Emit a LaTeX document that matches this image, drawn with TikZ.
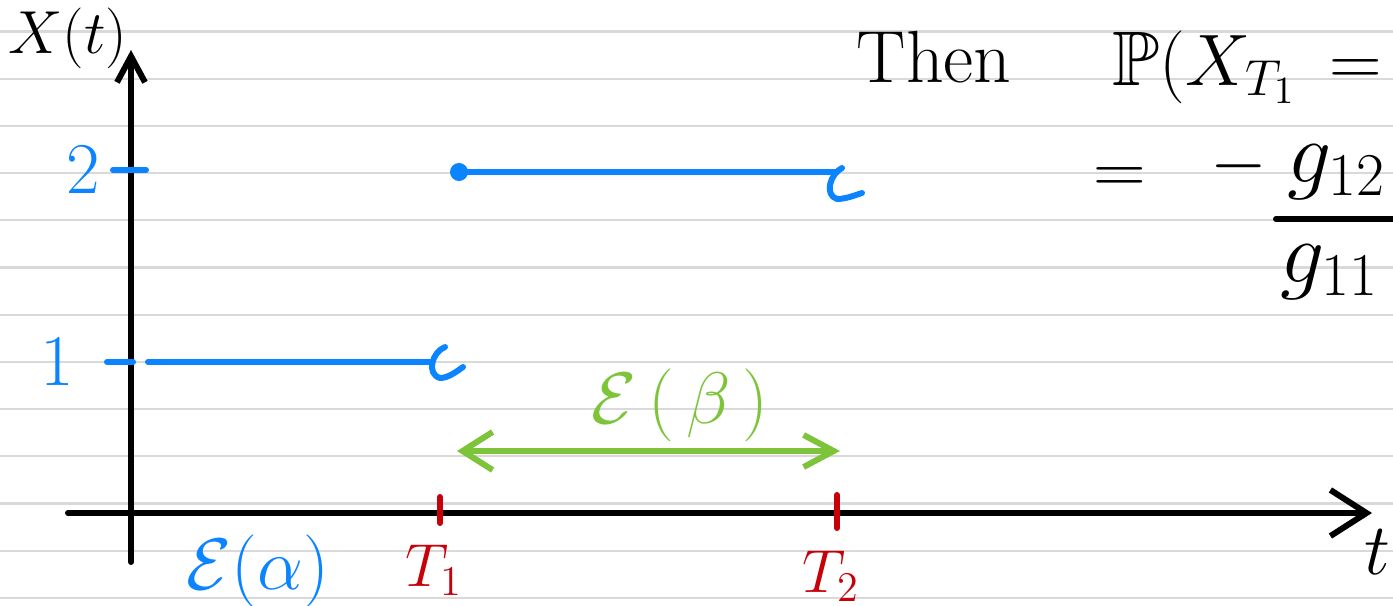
\documentclass[tikz,border=0pt]{standalone}
\usepackage{amsmath, amssymb}
\usepackage{tikz}
\usetikzlibrary{arrows.meta, positioning}

\definecolor{penblue}{HTML}{0A84FF}
\definecolor{pengreen}{HTML}{7DC43A}
\definecolor{penred}{HTML}{C8000A}
\definecolor{ruling}{HTML}{D9D9D9}

\begin{document}
\begin{tikzpicture}[x=0.01cm, y=-0.01cm,
    pen/.style={line width=1.7pt, line cap=round, line join=round},
    hand/.style={font=\fontsize{#1}{#1}\selectfont, inner sep=0pt}]
    \useasboundingbox (0,0) rectangle (1393,606);
    \clip (0,0) rectangle (1393,606);
    \fill[white] (0,0) rectangle (1393,606);

    % Ruled paper
    \foreach \k in {0,...,12} {
        \draw[ruling, line width=0.6pt] (0,{31.5+47.2*\k}) -- (1393,{31.5+47.2*\k});
    }

    % Axes
    \coordinate (ybot) at (131,562);
    \coordinate (ytop) at (131,50);
    \coordinate (xleft) at (68,513);
    \coordinate (xtip) at (1372,513);
    \draw[pen, -{Straight Barb[length=2.6mm, width=2.8mm]}] (ybot) -- (ytop);
    \draw[pen, -{Straight Barb[length=3.6mm, width=4.6mm]}] (xleft) -- (xtip);
    \node[hand=17] (xlabel) at (68,38) {$X(t)$};
    \node[hand=22] (tlabel) at (1377,552) {$t$};

    % States
    \foreach \v/\y/\lx/\ta/\tb in {2/170/83/113/146, 1/362/57/107/133} {
        \node[hand=20, text=penblue] (lev\v) at (\lx,\y) {$\v$};
        \draw[pen, penblue] (\ta,\y) -- (\tb,\y);
    }

    % Sample path
    \coordinate (a0) at (148,362);
    \coordinate (a1) at (430,362);
    \draw[pen, penblue] (a0) -- (a1);
    \draw[pen, penblue] (445,347) .. controls (432,352) and (426,374) .. (440,378)
        .. controls (448,378) and (456,372) .. (463,367);
    \node[circle, fill=penblue, inner sep=0pt, minimum size=1.8mm] (jump) at (459,172) {};
    \coordinate (b1) at (837,172);
    \draw[pen, penblue] (jump.center) -- (b1);
    \draw[pen, penblue] (842,168) .. controls (830,174) and (824,195) .. (837,199)
        .. controls (845,199) and (853,196) .. (862,193);

    % Holding times
    \coordinate (bL) at (457,451);
    \coordinate (bR) at (840,451);
    \draw[pen, pengreen, {Straight Barb[length=3mm, width=3.8mm]}-{Straight Barb[length=3mm, width=3.2mm]}] (bL) -- (bR);
    \node[hand=22, text=pengreen] (hbeta) at (680,405) {$\mathcal{E}\,(\,\beta\,)$};
    \node[hand=20, text=penblue] (halpha) at (258,571) {$\mathcal{E}(\alpha)$};

    % Jump times
    \foreach \n/\x/\ya/\yb/\ly in {1/440/497/523/570, 2/837/495/528/576} {
        \draw[pen, penred] (\x,\ya) -- (\x,\yb);
        \node[hand=18, text=penred] (T\n) at (\x-6,\ly) {$T_{\n}$};
    }

    % Formula
    \node[hand=21, anchor=base west] (then) at (856,83) {Then};
    \node[hand=22, anchor=base west] (prob) at (1112,85) {$\mathbb{P}(X_{T_1}\,=$};
    \node[hand=22] (eqb) at (1120,181) {$=$};
    \node[hand=22] (minus) at (1239,166) {$-$};
    \node[hand=24] (num) at (1337,172) {$g_{12}$};
    \node[hand=24] (den) at (1330,272) {$g_{11}$};
    \coordinate (barL) at (1276,219);
    \coordinate (barR) at (1400,219);
    \draw[pen] (barL) -- (barR);
\end{tikzpicture}
\end{document}
